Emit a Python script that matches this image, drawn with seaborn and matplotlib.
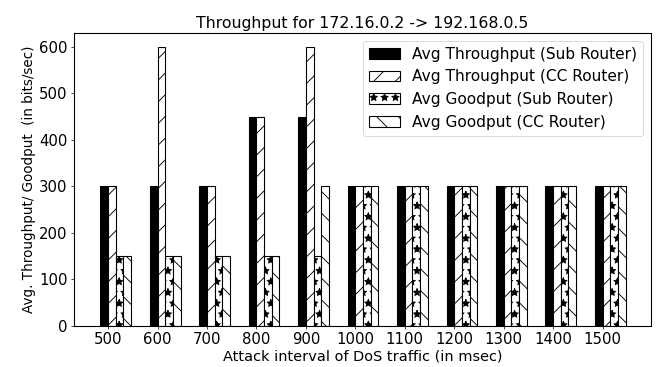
import numpy as np
import pandas as pd
import seaborn as sns
import matplotlib
matplotlib.use('Agg')
import matplotlib.pyplot as plt

# data
intervals = [500, 600, 700, 800, 900, 1000, 1100, 1200, 1300, 1400, 1500]
thr_sub = [300, 300, 300, 450, 450, 300, 300, 300, 300, 300, 300]
thr_cc = [300, 600, 300, 450, 600, 300, 300, 300, 300, 300, 300]
good_sub = [150, 150, 150, 150, 150, 300, 300, 300, 300, 300, 300]
good_cc = [150, 150, 150, 150, 300, 300, 300, 300, 300, 300, 300]
series = ['Avg Throughput (Sub Router)', 'Avg Throughput (CC Router)',
          'Avg Goodput (Sub Router)', 'Avg Goodput (CC Router)']

df = pd.DataFrame({
    'interval': intervals * 4,
    'value': thr_sub + thr_cc + good_sub + good_cc,
    'series': np.repeat(series, len(intervals)),
})

w = 0.155
fig = plt.figure(figsize=(657 / 65, 367 / 65), dpi=65)
ax = fig.add_axes([74 / 657, 41 / 367, 577 / 657, 293 / 367])

sns.barplot(data=df, x='interval', y='value', hue='series', hue_order=series,
            order=intervals, palette=['black', 'white', 'white', 'white'],
            edgecolor='black', linewidth=1.2, width=4 * w, errorbar=None,
            saturation=1, legend=False, ax=ax)

# hatch each series and move the group so the tick sits right of the black bar
hatches = ['', '/', '*', '\\']
for cont, h in zip(ax.containers, hatches):
    for p in cont:
        p.set_hatch(h)
        p.set_x(p.get_x() + w)

ax.set_xlim(-0.69, 10.98)
ax.set_ylim(0, 630)
ax.set_yticks(range(0, 601, 100))
ax.tick_params(labelsize=16.5)
for s in ax.spines.values():
    s.set_linewidth(1.2)

ax.set_title('Throughput for 172.16.0.2 -> 192.168.0.5', fontsize=17.5)
ax.set_xlabel('Attack interval of DoS traffic (in msec)', fontsize=16, labelpad=2)
ax.set_ylabel('Avg. Throughput/ Goodput  (in bits/sec)', fontsize=15)
ax.legend(ax.containers, series, loc='upper right', fontsize=17)

plt.savefig('out.png', dpi=65)
